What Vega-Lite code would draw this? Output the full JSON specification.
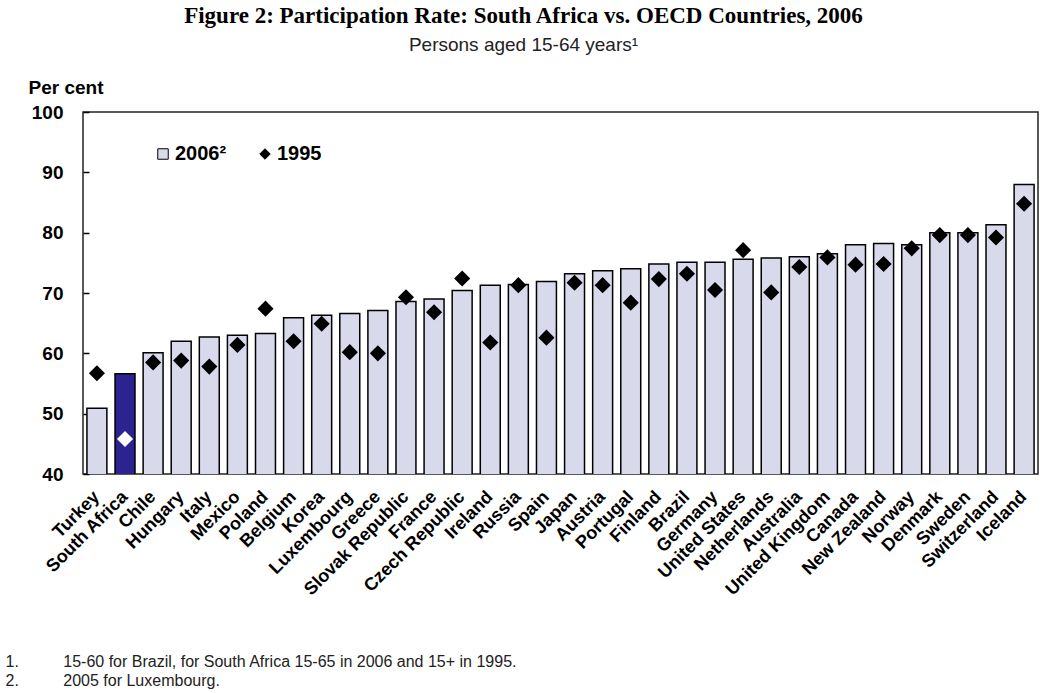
{
  "$schema": "https://vega.github.io/schema/vega-lite/v6.json",
  "width": 955,
  "height": 362,
  "autosize": {"type": "none"},
  "padding": {"left": 83, "top": 112, "right": 14, "bottom": 219},
  "background": "white",
  "title": {
    "text": "Figure 2: Participation Rate: South Africa vs. OECD Countries, 2006",
    "subtitle": "Persons aged 15-64 years¹",
    "anchor": "middle",
    "frame": "group",
    "dx": -37,
    "font": "Liberation Serif",
    "fontSize": 23,
    "fontWeight": "bold",
    "color": "black",
    "subtitleFont": "Liberation Sans",
    "subtitleFontSize": 19,
    "subtitleColor": "#222222",
    "subtitlePadding": 8,
    "offset": 23
  },
  "data": {
    "values": [
      {"country": "Turkey", "v2006": 50.9, "v1995": 56.7},
      {"country": "South Africa", "v2006": 56.6, "v1995": 45.8},
      {"country": "Chile", "v2006": 60.1, "v1995": 58.5},
      {"country": "Hungary", "v2006": 62.0, "v1995": 58.8},
      {"country": "Italy", "v2006": 62.7, "v1995": 57.8},
      {"country": "Mexico", "v2006": 63.0, "v1995": 61.4},
      {"country": "Poland", "v2006": 63.3, "v1995": 67.4},
      {"country": "Belgium", "v2006": 65.9, "v1995": 62.0},
      {"country": "Korea", "v2006": 66.3, "v1995": 64.9},
      {"country": "Luxembourg", "v2006": 66.6, "v1995": 60.2},
      {"country": "Greece", "v2006": 67.1, "v1995": 60.0},
      {"country": "Slovak Republic", "v2006": 68.6, "v1995": 69.3},
      {"country": "France", "v2006": 69.0, "v1995": 66.8},
      {"country": "Czech Republic", "v2006": 70.4, "v1995": 72.4},
      {"country": "Ireland", "v2006": 71.3, "v1995": 61.8},
      {"country": "Russia", "v2006": 71.4, "v1995": 71.3},
      {"country": "Spain", "v2006": 71.9, "v1995": 62.6},
      {"country": "Japan", "v2006": 73.2, "v1995": 71.7},
      {"country": "Austria", "v2006": 73.7, "v1995": 71.3},
      {"country": "Portugal", "v2006": 74.0, "v1995": 68.4},
      {"country": "Finland", "v2006": 74.8, "v1995": 72.3},
      {"country": "Brazil", "v2006": 75.1, "v1995": 73.2},
      {"country": "Germany", "v2006": 75.1, "v1995": 70.5},
      {"country": "United States", "v2006": 75.6, "v1995": 77.1},
      {"country": "Netherlands", "v2006": 75.8, "v1995": 70.1},
      {"country": "Australia", "v2006": 76.0, "v1995": 74.3},
      {"country": "United Kingdom", "v2006": 76.5, "v1995": 75.9},
      {"country": "Canada", "v2006": 78.0, "v1995": 74.7},
      {"country": "New Zealand", "v2006": 78.2, "v1995": 74.8},
      {"country": "Norway", "v2006": 78.0, "v1995": 77.4},
      {"country": "Denmark", "v2006": 80.0, "v1995": 79.6},
      {"country": "Sweden", "v2006": 80.0, "v1995": 79.6},
      {"country": "Switzerland", "v2006": 81.3, "v1995": 79.2},
      {"country": "Iceland", "v2006": 88.0, "v1995": 84.8}
    ]
  },
  "transform": [{"fold": ["v2006", "v1995"], "as": ["series", "value"]}],
  "encoding": {
    "x": {
      "field": "country",
      "type": "nominal",
      "sort": null,
      "scale": {"paddingInner": 0.29, "paddingOuter": 0.14},
      "axis": {
        "title": [
          "1.\u00a0\u00a0\u00a0\u00a0\u00a0\u00a0\u00a0\u00a0\u00a0\u00a015-60 for Brazil, for South Africa 15-65 in 2006 and 15+ in 1995.",
          "2.\u00a0\u00a0\u00a0\u00a0\u00a0\u00a0\u00a0\u00a0\u00a0\u00a02005 for Luxembourg."
        ],
        "titleFont": "Liberation Sans",
        "titleFontSize": 16,
        "titleFontWeight": "normal",
        "titleColor": "#222222",
        "titleAnchor": "start",
        "titleAlign": "left",
        "titleBaseline": "alphabetic",
        "titleX": -78,
        "titleY": 192,
        "titleLineHeight": 19,
        "ticks": false,
        "domain": false,
        "labelAngle": -45,
        "labelAlign": "right",
        "labelBaseline": "middle",
        "labelPadding": 20,
        "labelOverlap": false,
        "labelFont": "Liberation Sans",
        "labelFontSize": 18,
        "labelFontWeight": "bold",
        "labelColor": "black",
        "labelLimit": 300
      }
    },
    "y": {
      "field": "value",
      "type": "quantitative",
      "scale": {"domain": [40, 100], "nice": false, "zero": false},
      "axis": {
        "values": [40, 50, 60, 70, 80, 90, 100],
        "title": "Per cent",
        "titleAngle": 0,
        "titleAlign": "left",
        "titleBaseline": "alphabetic",
        "titleX": -55,
        "titleY": -19,
        "titleFont": "Liberation Sans",
        "titleFontSize": 19,
        "titleFontWeight": "bold",
        "titleColor": "black",
        "domain": false,
        "grid": false,
        "tickSize": -6,
        "tickColor": "black",
        "tickWidth": 1.5,
        "labelPadding": 26,
        "labelFont": "Liberation Sans",
        "labelFontSize": 19,
        "labelFontWeight": "bold",
        "labelColor": "black"
      }
    }
  },
  "layer": [
    {
      "transform": [{"filter": "datum.series === 'v2006'"}],
      "mark": {"type": "bar", "stroke": "black", "strokeWidth": 1.5, "clip": true},
      "encoding": {
        "fill": {
          "condition": {"test": "datum.country === 'South Africa'", "value": "#2c2290"},
          "field": "series",
          "type": "nominal",
          "scale": {"domain": ["v2006", "v1995"], "range": ["#d9d9ec", "black"]},
          "legend": {
            "title": null,
            "orient": "none",
            "legendX": 70,
            "legendY": 32,
            "direction": "horizontal",
            "columns": 2,
            "columnPadding": 28,
            "padding": 0,
            "symbolSize": 110,
            "symbolStrokeColor": "black",
            "symbolStrokeWidth": 1,
            "labelOffset": 2,
            "labelFont": "Liberation Sans",
            "labelFontSize": 20,
            "labelFontWeight": "bold",
            "labelColor": "black",
            "labelExpr": "datum.value === 'v2006' ? '2006²' : '1995'"
          }
        }
      }
    },
    {
      "transform": [{"filter": "datum.series === 'v1995'"}],
      "mark": {"type": "point", "filled": true, "size": 260, "opacity": 1, "strokeWidth": 0},
      "encoding": {
        "fill": {
          "condition": {"test": "datum.country === 'South Africa'", "value": "white"},
          "field": "series",
          "type": "nominal",
          "scale": {"domain": ["v2006", "v1995"], "range": ["#d9d9ec", "black"]}
        },
        "shape": {
          "field": "series",
          "type": "nominal",
          "scale": {"domain": ["v2006", "v1995"], "range": ["square", "diamond"]}
        }
      }
    }
  ],
  "config": {
    "view": {"stroke": "#222222", "strokeWidth": 1.5},
    "font": "Liberation Sans"
  }
}
